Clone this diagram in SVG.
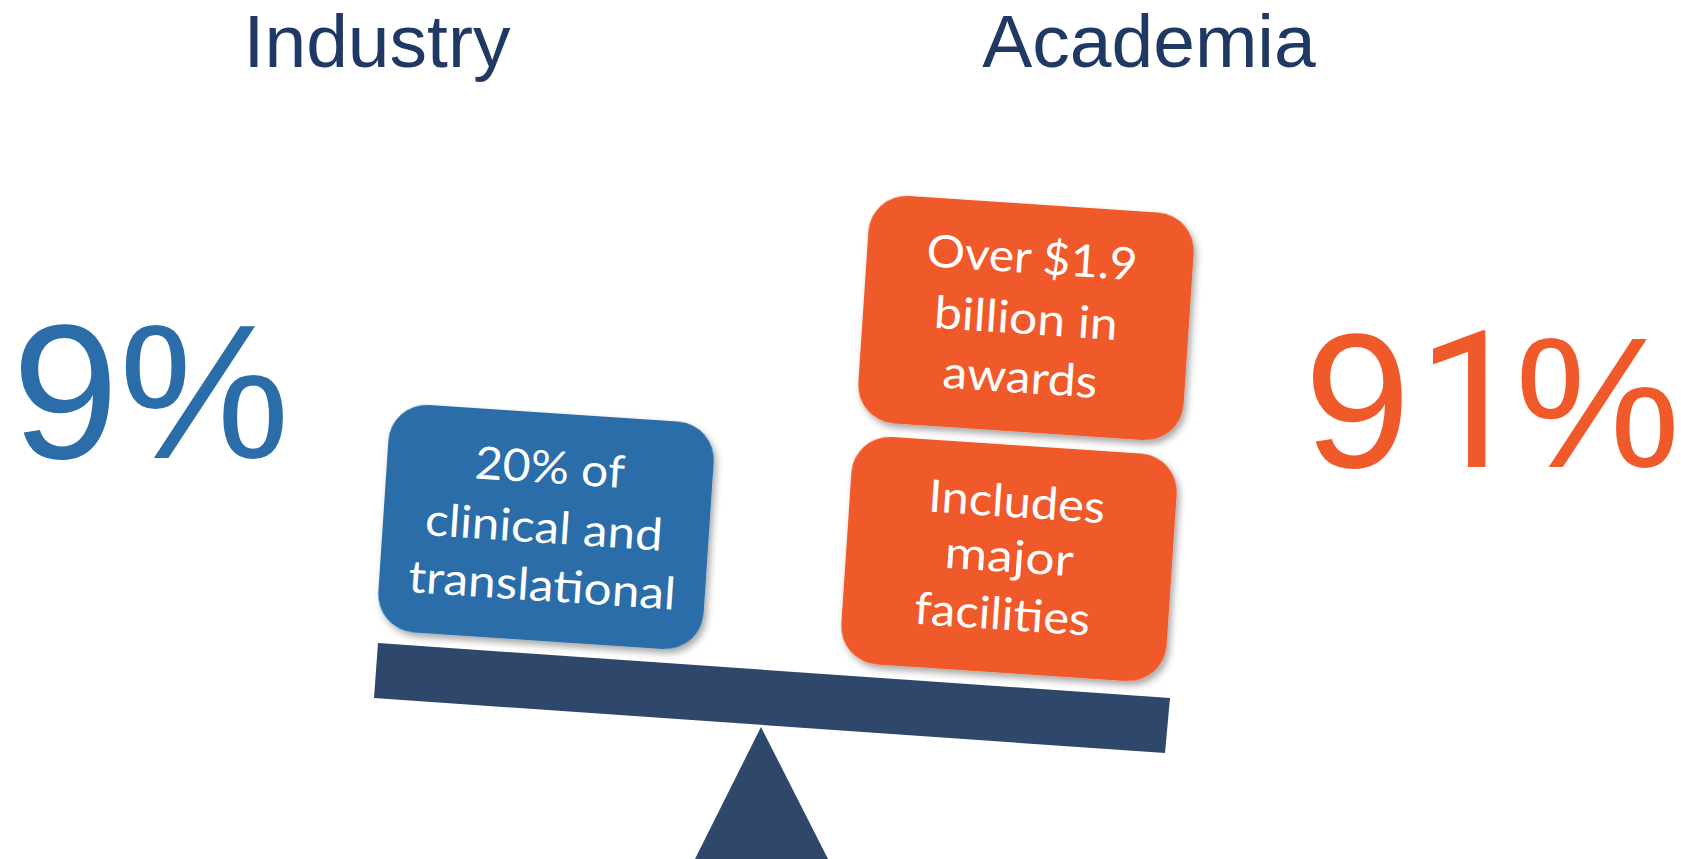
<svg xmlns="http://www.w3.org/2000/svg" width="1681" height="859" viewBox="0 0 1681 859">
<style>
.title{font-family:"Liberation Sans",Arial,sans-serif;font-size:75px;fill:#1F3864;text-anchor:middle}
.big{font-family:"Liberation Sans",Arial,sans-serif;font-size:192px}
.bt{font-family:Lato,"Open Sans",sans-serif;font-size:45px;fill:#FFFFFF;text-anchor:middle}
.blue{fill:#2A6DA8}
.orange{fill:#F05A2A}
.navy{fill:#2E476B}
</style>
<defs>
<filter id="sh" x="-10%" y="-10%" width="125%" height="130%">
<feDropShadow dx="3" dy="4" stdDeviation="3.5" flood-color="#000" flood-opacity="0.35"/>
</filter>
</defs>
<rect width="1681" height="859" fill="#FFFFFF"/>
<g id="title-industry"><text class="title" x="377" y="67">Industry</text></g>
<g id="title-academia"><text class="title" x="1149" y="67">Academia</text></g>
<g id="pct-industry"><text class="big blue" y="458"><tspan x="12">9</tspan><tspan x="119">%</tspan></text></g>
<g id="pct-academia">
<text class="big orange" y="467"><tspan x="1304">9</tspan><tspan x="1417" font-family="Roboto,'Liberation Sans',sans-serif">1</tspan><tspan x="1515" font-size="186">%</tspan></text>
</g>
<g id="fulcrum"><polygon class="navy" points="761,727 695,859 828,859"/></g>
<g id="beam"><polygon class="navy" points="378,643 1170,698 1165,753 374,698"/></g>
<g id="box-industry" transform="translate(546,527) rotate(3.8)">
<rect class="blue" x="-163" y="-114" width="326" height="228" rx="38" filter="url(#sh)"/>
<text class="bt" x="0" y="-44" textLength="150" lengthAdjust="spacingAndGlyphs">20% of</text>
<text class="bt" x="-2" y="16" textLength="238" lengthAdjust="spacingAndGlyphs">clinical and</text>
<text class="bt" x="0" y="74" textLength="268" lengthAdjust="spacingAndGlyphs">translational</text>
</g>
<g id="box-awards" transform="translate(1026,318) rotate(3.8)">
<rect class="orange" x="-163" y="-114" width="326" height="228" rx="38" filter="url(#sh)"/>
<text class="bt" x="2" y="-45" textLength="211" lengthAdjust="spacingAndGlyphs">Over $1.9</text>
<text class="bt" x="0" y="16" textLength="184" lengthAdjust="spacingAndGlyphs">billion in</text>
<text class="bt" x="-2" y="75" textLength="155" lengthAdjust="spacingAndGlyphs">awards</text>
</g>
<g id="box-facilities" transform="translate(1009,559) rotate(3.8)">
<rect class="orange" x="-163" y="-114" width="326" height="228" rx="38" filter="url(#sh)"/>
<text class="bt" x="4" y="-42" textLength="177" lengthAdjust="spacingAndGlyphs">Includes</text>
<text class="bt" x="0" y="13" textLength="129" lengthAdjust="spacingAndGlyphs">major</text>
<text class="bt" x="-3" y="71" textLength="176" lengthAdjust="spacingAndGlyphs">facilities</text>
</g>
<g id="connectors"></g>
</svg>
